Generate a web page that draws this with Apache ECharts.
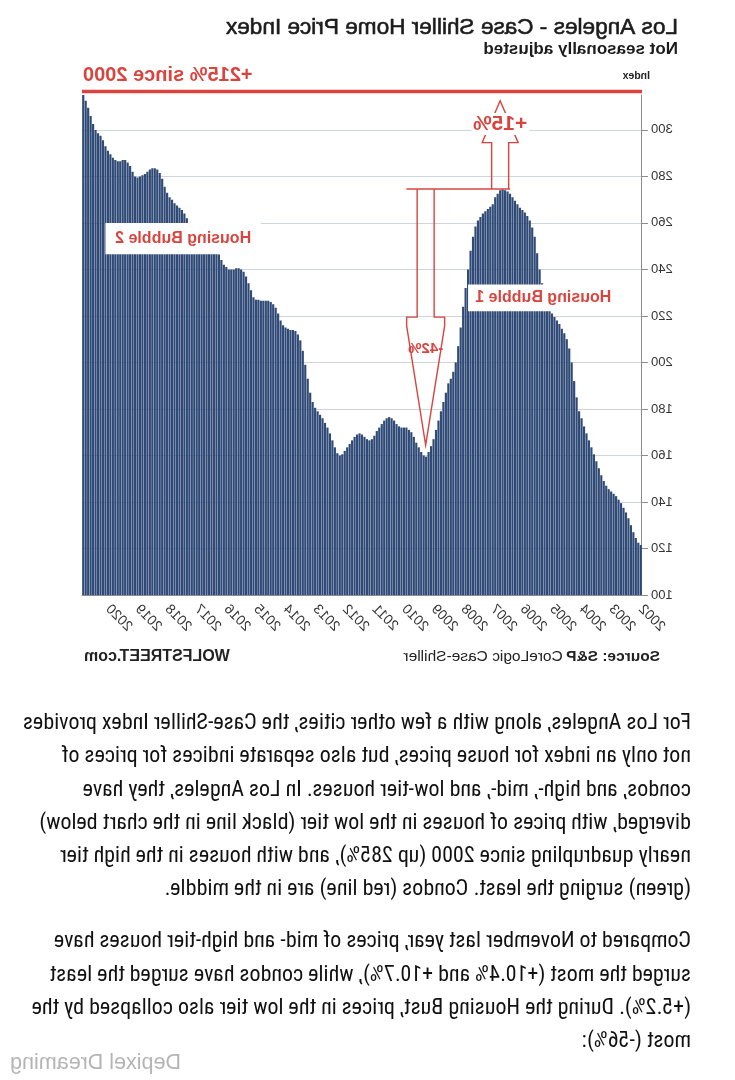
<!DOCTYPE html>
<html><head><meta charset="utf-8">
<script src="https://cdn.jsdelivr.net/npm/echarts/dist/echarts.min.js"></script>
<style>
html,body{margin:0;padding:0;background:#fff;}
#page{width:735px;height:1080px;position:relative;transform:scaleX(-1);transform-origin:50% 50%;overflow:hidden;background:#fff;}
#chart{position:absolute;left:0;top:0;width:735px;height:680px;}
#text{position:absolute;left:44px;top:705px;font-family:"Liberation Sans Narrow","Roboto Condensed","Open Sans",sans-serif;color:#111;font-size:20px;}
.ln{white-space:nowrap;height:33.3px;line-height:33.3px;}
.gap{height:18.7px}
#wm{position:absolute;left:554px;top:1050px;font-family:"Liberation Sans",Arial,sans-serif;font-size:21.5px;color:#b4b4b4;white-space:nowrap;}
</style></head>
<body>
<div id="page">
  <div id="chart"></div>
  <div id="text">
    <div class="ln">For Los Angeles, along with a few other cities, the Case-Shiller Index provides</div>
    <div class="ln">not only an index for house prices, but also separate indices for prices of</div>
    <div class="ln">condos, and high-, mid-, and low-tier houses. In Los Angeles, they have</div>
    <div class="ln">diverged, with prices of houses in the low tier (black line in the chart below)</div>
    <div class="ln">nearly quadrupling since 2000 (up 285%), and with houses in the high tier</div>
    <div class="ln">(green) surging the least. Condos (red line) are in the middle.</div>
    <div class="gap"></div>
    <div class="ln">Compared to November last year, prices of mid- and high-tier houses have</div>
    <div class="ln">surged the most (+10.4% and +10.7%), while condos have surged the least</div>
    <div class="ln">(+5.2%). During the Housing Bust, prices in the low tier also collapsed by the</div>
    <div class="ln">most (-56%):</div>
  </div>
  <div id="wm">Depixel Dreaming</div>
</div>
<script>
// ---- data (monthly index values, Jan 2002 .. Nov 2020) ----
const years = [2002,2003,2004,2005,2006,2007,2008,2009,2010,2011,2012,2013,2014,2015,2016,2017,2018,2019,2020];
const v2002 = [121.5,122.5,124.5,127,130,133,135.5,137.5,139.5,141,142.5,143.5];
const v2003 = [144.5,145.5,147,149,151.5,154.5,157.5,160.5,163.5,166.5,169.5,172.5];
const v2004 = [176,179,185,192,200,206,210,212.5,214.5,216.5,218,219.5];
const v2005 = [221,223,226,229.5,234,240,247,254,258,261,263,264.5];
const v2006 = [265.5,266.5,268,269.5,271,272.5,273.5,274,274.5,274,272.5,271];
const v2007 = [268,267,266,265,264,262.5,261,258.5,254,248,240,232];
const v2008 = [224,215,207,200,196,193,191,187,183,179,175,171];
const v2009 = [167,164,161.5,159.5,160,161.5,163.5,165.5,168,170,171,172];
const v2010 = [172,172,172.5,173.5,175,176,176.5,176,175,173.5,172,170.5];
const v2011 = [168.5,167,166.5,167,168,169,169.5,169,168,166.5,165,163.5];
const v2012 = [162,160.5,160,161,163.5,166.5,169.5,172,174,176,177.5,179];
const v2013 = [180.5,183,187,193,199,205,209.5,212,213.5,214,214,214.5];
const v2014 = [215,216,218,221,223.5,225,226,226.5,226.5,226.5,226.5,227];
const v2015 = [227,228,231,234,237,239,240,240.5,240.5,240,240,240];
const v2016 = [241,242,244,246.5,249,250.5,251.5,252,252,252.5,253,253.5];
const v2017 = [254,255,257,259.5,262,264,265.5,266.5,267.5,268.5,270,271];
const v2018 = [273,275.5,279,281.5,283,283.5,283.5,283,282,281,280.5,280];
const v2019 = [279.5,280,282,284.5,286,287,287,286.5,286.5,287,288,289.5];
const v2020 = [291,293,295.5,297.5,298.5,300,302.5,306,309.5,312.5,315];
const yTicks = [100,120,140,160,180,200,220,240,260,280,300];

const yearly = [v2002,v2003,v2004,v2005,v2006,v2007,v2008,v2009,v2010,v2011,v2012,v2013,v2014,v2015,v2016,v2017,v2018,v2019,v2020];
const categories = [], values = [];
yearly.forEach((arr, i) => arr.forEach((v, j) => {
  categories.push(years[i] + '-' + String(j + 1).padStart(2, '0'));
  values.push(v);
}));
const idx = (y, mo) => categories.indexOf(y + '-' + String(mo).padStart(2, '0'));

const RED = '#d9443e';
const chart = echarts.init(document.getElementById('chart'), null, {renderer: 'canvas'});
const isJan = (i, v) => v.slice(5) === '01';
const splitColors = yTicks.map(() => '#cdd4df').concat(['rgba(0,0,0,0)']);

chart.setOption({
  animation: false,
  backgroundColor: '#fff',
  grid: {left: 93, right: 82, top: 95, bottom: 85},
  xAxis: {
    type: 'category', data: categories, boundaryGap: true,
    axisLine: {lineStyle: {color: '#8c8c8c', width: 1}},
    axisTick: {interval: isJan, length: 6, lineStyle: {color: '#8c8c8c'}},
    axisLabel: {interval: isJan, rotate: 45, formatter: v => v.slice(0, 4),
      color: '#333', fontSize: 14, fontFamily: 'Liberation Sans', margin: 12}
  },
  yAxis: {
    type: 'value', min: 100, max: 315, interval: 20,
    axisLine: {show: true, lineStyle: {color: '#8c8c8c'}},
    axisTick: {show: true, length: 6, lineStyle: {color: '#8c8c8c'}},
    axisLabel: {color: '#333', fontSize: 13, fontFamily: 'Liberation Sans', margin: 9, showMaxLabel: false},
    splitLine: {show: true, lineStyle: {color: splitColors, width: 1}}
  },
  series: [{
    type: 'bar', data: values, barCategoryGap: '12%',
    itemStyle: {color: '#2f4a76'}
  }]
});

const P = (m, v) => chart.convertToPixel({xAxisIndex: 0, yAxisIndex: 0}, [m, v]);
const g = [];
function txt(x, y, text, font, fill, align, extra) {
  g.push({type: 'text', x, y, z: 100, style: Object.assign({text, font, fill, align: align || 'left', verticalAlign: 'middle'}, extra || {})});
}
// titles
txt(57, 28, 'Los Angeles - Case Shiller Home Price Index', '22.6px "Liberation Sans", Arial, sans-serif', '#1b1b1b', 'left', {stroke: '#1b1b1b', lineWidth: 0.6});
txt(57, 49, 'Not seasonally adjusted', 'bold 17px "Liberation Sans", Arial, sans-serif', '#1b1b1b');
txt(85, 76, 'Index', 'bold 10.5px "Liberation Sans", sans-serif', '#222');
txt(652, 75, '+215% since 2000', 'bold 20px "Liberation Sans", sans-serif', RED, 'right');
// red top line
const topY = P(0, 316.5)[1];
g.push({type: 'line', z: 90, shape: {x1: 93, y1: topY, x2: 653, y2: topY}, style: {stroke: RED, lineWidth: 3.5}});

// Housing bubble labels
function box(m1, m2, vTop, vBot, text) {
  const a = P(m1, vTop), b = P(m2, vBot);
  g.push({type: 'rect', z: 95, shape: {x: a[0], y: a[1], width: b[0] - a[0], height: b[1] - a[1]}, style: {fill: '#fff'}});
  txt((a[0] + b[0]) / 2, (a[1] + b[1]) / 2, text, 'bold 16px "Liberation Sans", sans-serif', RED, 'center');
}
box(idx(2002, 10), idx(2007, 11), 233.5, 222, 'Housing Bubble 1');
box(idx(2014, 11), idx(2020, 2), 260, 246.5, 'Housing Bubble 2');

// arrows
const peakV = 274.6;
const yH = P(0, peakV)[1];
const dC = P(idx(2009, 4), 0)[0] + 0.5;   // down-arrow centre (trough)
const uC = P(idx(2006, 10), 0)[0];      // up-arrow centre (peak)
const xL = P(idx(2006, 6), 0)[0];
const xR = P(idx(2009, 12), 0)[0];
const dHead = P(0, 219.5)[1], dHead2 = P(0, 217)[1], dTip = P(0, 164.5)[1];
const uHead = P(0, 294.5)[1], uTip = P(0, 312.5)[1];
const stroke = {stroke: RED, lineWidth: 1.4, fill: 'none'};
g.push({type: 'polyline', z: 96, shape: {points: [[xL, yH], [xR, yH]]}, style: stroke});
g.push({type: 'polyline', z: 96, shape: {points: [
  [dC - 8.5, yH], [dC - 8.5, dHead], [dC - 19, dHead], [dC - 19, dHead2 + 3], [dC, dTip],
  [dC + 19, dHead2 + 3], [dC + 19, dHead], [dC + 8.5, dHead], [dC + 8.5, yH]]}, style: stroke});
g.push({type: 'polyline', z: 96, shape: {points: [
  [uC - 8.5, yH], [uC - 8.5, uHead], [uC - 18, uHead], [uC, uTip], [uC + 18, uHead], [uC + 8.5, uHead], [uC + 8.5, yH]]}, style: stroke});
const t15 = P(0, 302.5)[1];
g.push({type: 'rect', z: 97, shape: {x: uC - 29, y: t15 - 11, width: 58, height: 22}, style: {fill: '#fff'}});
txt(uC, t15, '+15%', 'bold 21px "Liberation Sans", sans-serif', RED, 'center');
txt(dC, P(0, 206)[1], '-42%', 'bold 15px "Liberation Sans", sans-serif', RED, 'center');

// source
g.push({type: 'text', x: 75, y: 657, z: 100, style: {
  text: '{b|Source: S&P} {r|CoreLogic Case-Shiller}', verticalAlign: 'middle',
  rich: {b: {font: 'bold 15.5px "Liberation Sans", sans-serif', fill: '#222'}, r: {font: '15.5px "Liberation Sans", sans-serif', fill: '#222'}}}});
txt(651, 657, 'WOLFSTREET.com', 'bold 16px "Liberation Sans", sans-serif', '#222', 'right');

chart.setOption({graphic: {elements: g}});

// fit paragraph font so first line matches reference width
(function fit() {
  const box = document.getElementById('text');
  const first = box.querySelector('.ln');
  const span = document.createElement('span');
  span.textContent = first.textContent; span.style.whiteSpace = 'nowrap';
  first.textContent = ''; first.appendChild(span);
  const w = span.getBoundingClientRect().width;
  const fs = 20 * 668 / w;
  box.style.fontSize = fs.toFixed(2) + 'px';
})();
</script>
</body></html>
